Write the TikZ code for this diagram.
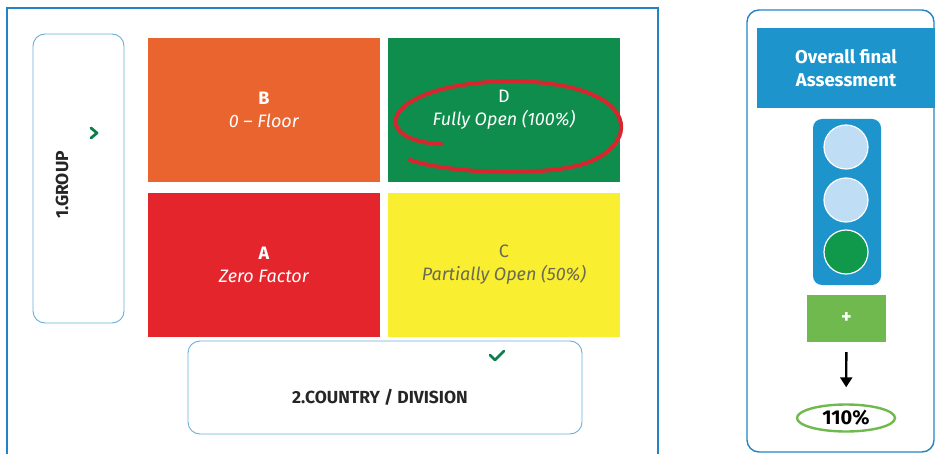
\documentclass[tikz,border=0pt]{standalone}
\usepackage{fontspec}
\setmainfont{Fira Sans}
\usetikzlibrary{arrows.meta,positioning,shapes.geometric}
\definecolor{frameblue}{HTML}{2484C1}
\definecolor{zoneblue}{HTML}{6AAFDA}
\definecolor{headblue}{HTML}{1E94CC}
\definecolor{cellorange}{HTML}{EA6430}
\definecolor{cellgreen}{HTML}{0E8D4C}
\definecolor{cellred}{HTML}{E4262C}
\definecolor{cellyellow}{HTML}{F9EE30}
\definecolor{lampblue}{HTML}{BFDDF4}
\definecolor{lampgreen}{HTML}{11994B}
\definecolor{plusgreen}{HTML}{6FB94E}
\definecolor{markgreen}{HTML}{0A7F4A}
\definecolor{penred}{HTML}{D8262E}
\definecolor{textgrey}{HTML}{6A6A55}
\tikzset{
  cell/.style      = {minimum width=232pt, minimum height=144pt, inner sep=0pt,
                      outer sep=0pt, align=center, text=white,
                      font=\fontsize{18}{23}\selectfont},
  zone/.style      = {draw=zoneblue, line width=0.9pt, rounded corners=12pt, inner sep=0pt},
  lamp/.style      = {circle, draw=white, line width=1.2pt, minimum size=44pt, inner sep=0pt},
  tick/.style      = {draw=markgreen, line width=2.8pt, line cap=round, line join=round},
  heading/.style   = {font=\bfseries\fontsize{17.5}{20}\selectfont, inner sep=1pt},
  node distance    = 11pt and 8pt,
}

\begin{document}
\begin{tikzpicture}[x=1pt, y=-1pt]
  \useasboundingbox (0,0) rectangle (936,454);
  % outer frame, open at the bottom
  \draw[frameblue, line width=1.4pt] (7,454) |- (658,8) -- (658,454);

  % the four fields
  \node[cell, fill=cellorange] (b) at (264,110)
    {\textbf{B}\\\textit{0 -- Floor}};
  \node[cell, fill=cellgreen, right=of b] (d)
    {D\\\textit{Fully Open (100\%)}};
  \node[cell, fill=cellred, below=of b] (a)
    {\textbf{A}\\\textit{Zero Factor}};
  \node[cell, fill=cellyellow, text=textgrey, below=of d] (c)
    {C\\\textit{Partially Open (50\%)}};

  % hand drawn ring round D
  \draw[penred, line width=4pt, line cap=round]
    (441,144) .. controls (392,142) and (380,116) .. (418,98)
    .. controls (456,78) and (562,72) .. (606,102)
    .. controls (634,122) and (622,153) .. (580,165)
    .. controls (540,176) and (452,174) .. (410,160);

  % axes
  \node[zone, minimum width=91pt, minimum height=289pt] (group) at (78.5,178.5) {};
  \node[heading, rotate=90, text=black!85] (grouplbl) at (62,185) {1.GROUP};
  \draw[tick] (91,128) -- (97,133) -- (91,138);

  \node[zone, minimum width=394pt, minimum height=93pt] (country) at (385,387.5) {};
  \node[heading, text=black!85] (countrylbl) at (380,397) {2.COUNTRY / DIVISION};
  \draw[tick] (490,355) -- (495,360) -- (504,351);

  % overall assessment panel
  \draw[frameblue, line width=1.4pt, rounded corners=12pt] (747,10) rectangle (934,452);
  \node[fill=headblue, text=white, align=center, minimum width=178pt, minimum height=80pt,
        font=\bfseries\fontsize{18.5}{23}\selectfont] (head) at (846,68)
    {Overall final\\Assessment};
  \node[fill=headblue, rounded corners=9pt, minimum width=68pt, minimum height=166pt]
    (light) at (847,202) {};
  \node[lamp, fill=lampblue] (top) at (846,147) {};
  \node[lamp, fill=lampblue] (mid) at (846,200) {};
  \node[lamp, fill=lampgreen] (low) at (846,252) {};
  \node[fill=plusgreen, text=white, minimum width=79pt, minimum height=47pt,
        font=\bfseries\fontsize{20}{22}\selectfont] (plus) at (846.5,318.5) {+};
  \node[draw=plusgreen, line width=2.4pt, ellipse, minimum width=98pt, minimum height=27pt,
        inner sep=0pt, font=\bfseries\fontsize{20}{22}\selectfont] (total) at (846,418) {110\%};
  \draw[-{Triangle[length=10pt, width=12pt]}, line width=2.4pt, shorten <=10pt, shorten >=16pt]
    (plus) -- (total);
\end{tikzpicture}
\end{document}
